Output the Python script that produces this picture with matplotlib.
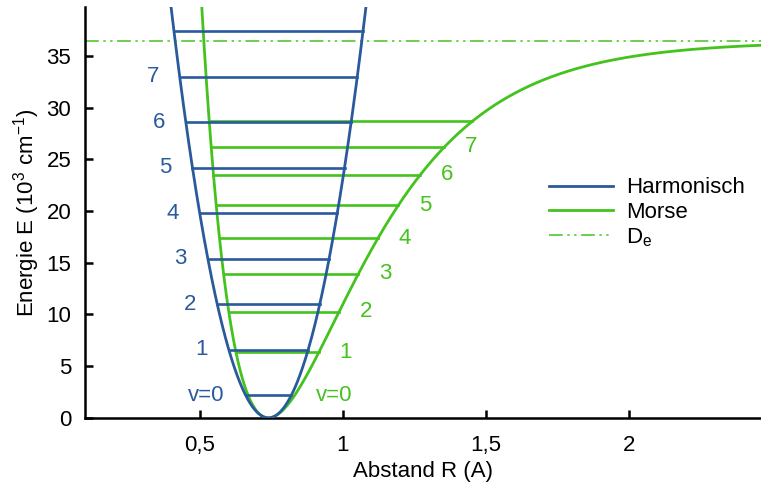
import matplotlib.pyplot as plt
import numpy as np

plt.rcParams['font.family'] = ['Liberation Sans', 'DejaVu Sans']

# H2-like constants (energies in 10^3 cm^-1, distance in A)
r_e = 0.74
D_e = 36.4
a = 3.07
we = 4.401
wexe = 0.121

blue = '#2a5a9c'
green = '#44c21e'

harm_levels = [0, 1, 2, 3, 4, 5, 6, 7, 8]
harm_labels = ['v=0', '1', '2', '3', '4', '5', '6', '7', '']
morse_levels = [0, 1, 2, 3, 4, 5, 6, 7, 8]
morse_labels = ['v=0', '1', '2', '3', '4', '5', '6', '7', '']

k_half = D_e * a ** 2


def harmonic(r):
    return k_half * (r - r_e) ** 2


def morse(r):
    return D_e * (1 - np.exp(-a * (r - r_e))) ** 2


fig, ax = plt.subplots(figsize=(7.61, 4.87), dpi=100)

r = np.linspace(0.3, 2.5, 2000)
ax.plot(r, harmonic(r), color=blue, lw=2.0, label='Harmonisch', zorder=3)
ax.plot(r, morse(r), color=green, lw=2.0, label='Morse', zorder=2)
ax.axhline(D_e, color=green, lw=1.1, dashes=(9, 3, 1.5, 3, 1.5, 3), label='$\\mathregular{D_e}$')

off = 0.073
for v, lab in zip(morse_levels, morse_labels):
    E = we * (v + 0.5) - wexe * (v + 0.5) ** 2
    s = np.sqrt(E / D_e)
    r_left = r_e - np.log(1 + s) / a
    r_right = r_e - np.log(1 - s) / a
    # the ground level sits under the harmonic one, so only its label is drawn
    if v > 0:
        ax.plot([r_left, r_right], [E, E], color=green, lw=1.9, zorder=2)
    ax.text(r_right + off, E, lab, color=green, fontsize=16, ha='left', va='center')

for v, lab in zip(harm_levels, harm_labels):
    E = we * (v + 0.5)
    w = np.sqrt(E / k_half)
    ax.plot([r_e - w, r_e + w], [E, E], color=blue, lw=1.9, zorder=3)
    ax.text(r_e - w - off, E, lab, color=blue, fontsize=16, ha='right', va='center')

ax.set_xlim(0.1, 2.46)
ax.set_ylim(0, 39.7)
ax.set_xticks([0.5, 1, 1.5, 2])
ax.set_xticklabels(['0,5', '1', '1,5', '2'])
ax.set_yticks([0, 5, 10, 15, 20, 25, 30, 35])
ax.tick_params(direction='in', length=6, width=1.8, labelsize=16, pad=10)
ax.tick_params(axis='x', pad=12)
for side in ['top', 'right']:
    ax.spines[side].set_visible(False)
for side in ['left', 'bottom']:
    ax.spines[side].set_linewidth(1.8)

ax.set_xlabel('Abstand R (A)', fontsize=16, labelpad=4)
ax.set_ylabel('Energie E ($\\mathregular{10^3\\ cm^{-1}}$)', fontsize=16, labelpad=3)

ax.legend(loc='center left', bbox_to_anchor=(0.656, 0.499), frameon=False, fontsize=16,
          handlelength=2.9, handletextpad=0.6, labelspacing=0.15)

plt.subplots_adjust(left=0.112, right=1.0, bottom=0.142, top=0.985)
plt.savefig('out.png', dpi=100)
